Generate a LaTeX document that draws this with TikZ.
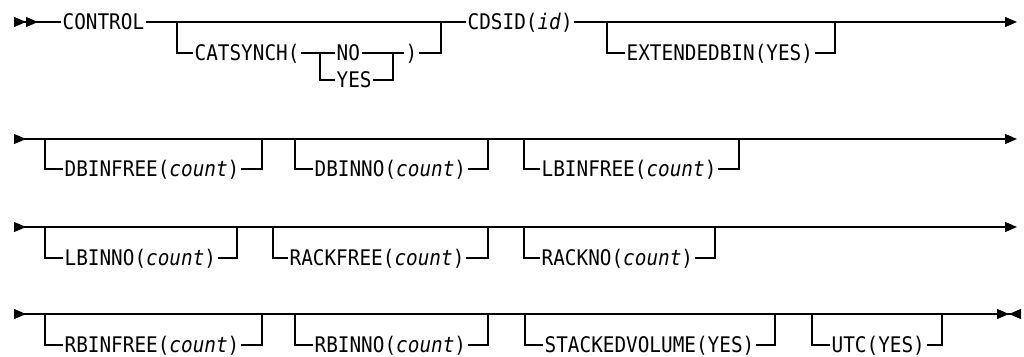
\documentclass[tikz,border=0pt]{standalone}
\usepackage{fontspec}
\setmonofont{DejaVu Sans Mono}[FakeStretch=0.9]
\usetikzlibrary{arrows.meta}
\tikzset{tri/.tip={Triangle[length=12pt,width=10pt,sep=0pt]},
	rtri/.tip={Triangle[reversed,length=12pt,width=10pt,sep=0pt]},
	kw/.style={anchor=west,inner xsep=1pt,inner ysep=0pt,text height=15.5pt,text depth=0pt,
		font=\ttfamily\fontsize{21.5}{25}\selectfont}}

\begin{document}
\begin{tikzpicture}[x=1pt,y=-1pt,line width=1.3pt]
		\useasboundingbox (0,0) rectangle (1024,356);
		% row 1
		\coordinate (st1) at (14,22);
		\node[kw] (ctl) at (61,22) {CONTROL};
		\coordinate (s11) at (177,22);
		\node[kw] (cat) at (193,53) {CATSYNCH(};
		\coordinate (s12) at (320,53);
		\node[kw] (no) at (335,53) {NO};
		\node[kw] (yes) at (335,80) {YES};
		\coordinate (m12) at (393,53);
		\node[kw] (rp) at (404,53) {)};
		\coordinate (m11) at (441,22);
		\node[kw] (cds) at (466,22) {CDSID(\textit{id})};
		\coordinate (s13) at (607,22);
		\node[kw] (ext) at (625,53) {EXTENDEDBIN(YES)};
		\coordinate (m13) at (835,22);
		\coordinate (en1) at (1017,22);
		\draw[{rtri[]rtri[]}-] (st1) -- (ctl);
		\draw (ctl) -- (s11) -- (m11) -- (cds);
		\draw (s11) |- (cat) (cat) -- (s12) -- (no) (no) -- (m12) -- (rp) (rp) -| (m11);
		\draw (s12) |- (yes) (yes) -| (m12);
		\draw[-tri] (cds) -- (s13) -- (m13) -- (en1);
		\draw (s13) |- (ext) (ext) -| (m13);
		% row 2
		\coordinate (st2) at (14,139);
		\coordinate (s21) at (45,139);
		\node[kw] (dbf) at (63,169) {DBINFREE(\textit{count})};
		\coordinate (m21) at (262,139);
		\coordinate (s22) at (295,139);
		\node[kw] (dbn) at (313,169) {DBINNO(\textit{count})};
		\coordinate (m22) at (488,139);
		\coordinate (s23) at (524,139);
		\node[kw] (lbf) at (540,169) {LBINFREE(\textit{count})};
		\coordinate (m23) at (739,139);
		\coordinate (en2) at (1017,139);
		\draw[rtri-tri] (st2) -- (en2);
		% row 3
		\coordinate (st3) at (14,227);
		\coordinate (s31) at (45,227);
		\node[kw] (lbn) at (63,258) {LBINNO(\textit{count})};
		\coordinate (m31) at (237,227);
		\coordinate (s32) at (273,227);
		\node[kw] (rkf) at (288,258) {RACKFREE(\textit{count})};
		\coordinate (m32) at (488,227);
		\coordinate (s33) at (524,227);
		\node[kw] (rkn) at (540,258) {RACKNO(\textit{count})};
		\coordinate (m33) at (715,227);
		\coordinate (en3) at (1017,227);
		\draw[rtri-tri] (st3) -- (en3);
		% row 4
		\coordinate (st4) at (14,314);
		\coordinate (s41) at (45,314);
		\node[kw] (rbf) at (63,345) {RBINFREE(\textit{count})};
		\coordinate (m41) at (262,314);
		\coordinate (s42) at (295,314);
		\node[kw] (rbn) at (313,345) {RBINNO(\textit{count})};
		\coordinate (m42) at (488,314);
		\coordinate (s43) at (525,314);
		\node[kw] (stk) at (543,345) {STACKEDVOLUME(YES)};
		\coordinate (m43) at (775,314);
		\coordinate (s44) at (812,314);
		\node[kw] (utc) at (830,345) {UTC(YES)};
		\coordinate (m44) at (942,314);
		\coordinate (en4) at (1021,314);
		\draw[{rtri[]}-{tri[]rtri[]}] (st4) -- (en4);
		% optional branches
		\foreach \s/\t/\m in {s21/dbf/m21,s22/dbn/m22,s23/lbf/m23,s31/lbn/m31,s32/rkf/m32,
			s33/rkn/m33,s41/rbf/m41,s42/rbn/m42,s43/stk/m43,s44/utc/m44}
			\draw (\s) |- (\t) (\t) -| (\m);
		\end{tikzpicture}
\end{document}
